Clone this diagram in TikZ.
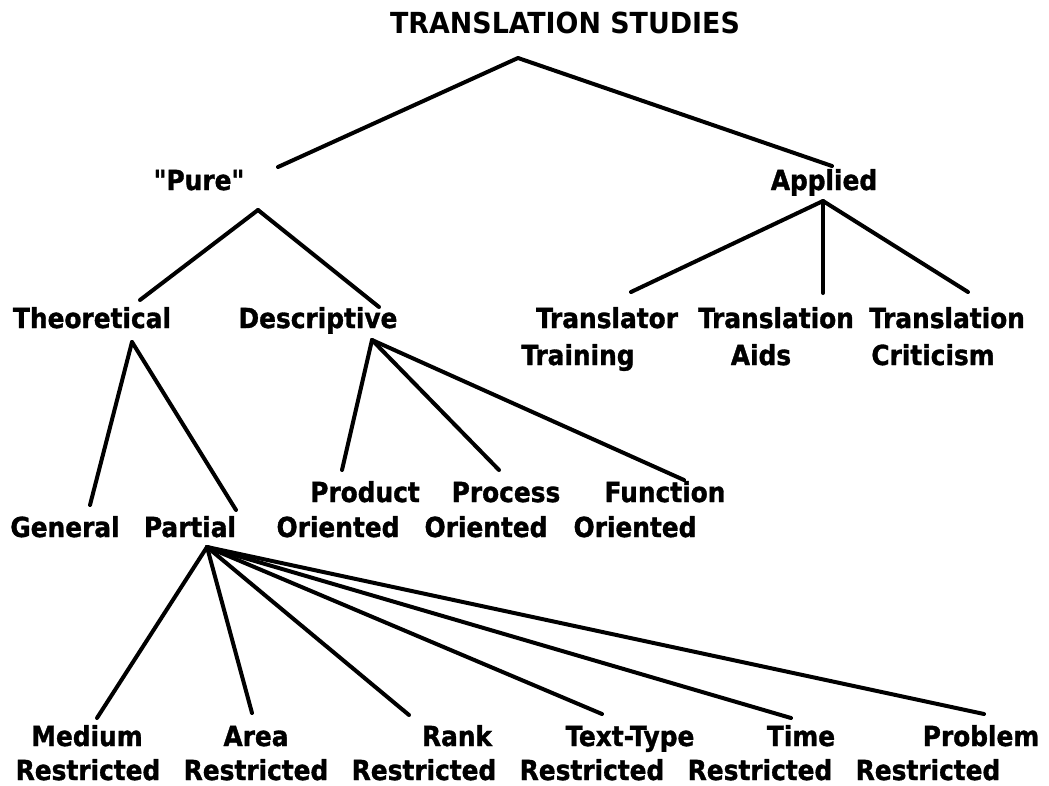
\documentclass[tikz,border=0pt]{standalone}
\usepackage{fontspec}
\newfontfamily\labfont{DejaVu Sans Condensed Bold}[FakeBold=1.2]
\newfontfamily\ttlfont{DejaVu Sans Condensed Bold}
\begin{document}
\begin{tikzpicture}[x=1pt,y=-1pt,
  lab/.style={inner sep=0pt,anchor=base,font=\labfont\fontsize{27.6}{30}\selectfont},
  ttl/.style={inner sep=0pt,anchor=base,font=\ttlfont\fontsize{29}{32}\selectfont},
  branch/.style={line width=4pt,line cap=round,line join=round,black}]
\useasboundingbox[fill=white] (0,0) rectangle (1049,785);
% texts
\node[ttl] (title) at (565,33) {\scalebox{1.03}[1]{TRANSLATION STUDIES}};
\node[lab] (pure) at (199,190) {"Pure"};
\node[lab] (applied) at (824,190) {Applied};
\node[lab] (theo) at (92,328) {Theoretical};
\node[lab] (desc) at (318,328) {Descriptive};
\node[lab] (trtr1) at (607,328) {Translator};
\node[lab] (trtr2) at (578,365) {Training};
\node[lab] (trai1) at (776,328) {Translation};
\node[lab] (trai2) at (761,365) {Aids};
\node[lab] (trcr1) at (947,328) {Translation};
\node[lab] (trcr2) at (933,365) {Criticism};
\node[lab] (gen) at (65,537) {General};
\node[lab] (part) at (190,537) {Partial};
\node[lab] (prod1) at (365,502) {Product};
\node[lab] (prod2) at (338,537) {Oriented};
\node[lab] (proc1) at (506,502) {Process};
\node[lab] (proc2) at (486,537) {Oriented};
\node[lab] (func1) at (665,502) {Function};
\node[lab] (func2) at (635,537) {Oriented};
\node[lab] (med1) at (87,746) {Medium};
\node[lab] (med2) at (88,780) {Restricted};
\node[lab] (area1) at (256,746) {Area};
\node[lab] (area2) at (256,780) {Restricted};
\node[lab] (rank1) at (457,746) {Rank};
\node[lab] (rank2) at (424,780) {Restricted};
\node[lab] (text1) at (630,746) {Text-Type};
\node[lab] (text2) at (592,780) {Restricted};
\node[lab] (time1) at (801,746) {Time};
\node[lab] (time2) at (760,780) {Restricted};
\node[lab] (prob1) at (981,746) {Problem};
\node[lab] (prob2) at (928,780) {Restricted};
% connector ends
\coordinate (titleB) at (518,58);
\coordinate (pureT) at (278,167);
\coordinate (appliedT) at (832,166);
\coordinate (pureB) at (258,210);
\coordinate (theoT) at (140,300);
\coordinate (descT) at (379,307);
\coordinate (appliedB) at (823,201);
\coordinate (trtrT) at (631,292);
\coordinate (traiT) at (823,293);
\coordinate (trcrT) at (968,292);
\coordinate (theoB) at (132,342);
\coordinate (genT) at (90,505);
\coordinate (partT) at (236,510);
\coordinate (descB) at (372,340);
\coordinate (prodT) at (342,470);
\coordinate (procT) at (499,470);
\coordinate (funcT) at (684,480);
\coordinate (partB) at (207,547);
\coordinate (medT) at (97,718);
\coordinate (areaT) at (252,713);
\coordinate (rankT) at (409,715);
\coordinate (textT) at (602,714);
\coordinate (timeT) at (791,718);
\coordinate (probT) at (984,714);
% connectors
\draw[branch] (pureT) -- (titleB) -- (appliedT);
\draw[branch] (pureB) -- (theoT);
\draw[branch] (pureB) -- (descT);
\draw[branch] (appliedB) -- (trtrT);
\draw[branch] (appliedB) -- (traiT);
\draw[branch] (appliedB) -- (trcrT);
\draw[branch] (theoB) -- (genT);
\draw[branch] (theoB) -- (partT);
\draw[branch] (descB) -- (prodT);
\draw[branch] (descB) -- (procT);
\draw[branch] (descB) -- (funcT);
\foreach \e in {medT,areaT,rankT,textT,timeT,probT}
  \draw[branch] (partB) -- (\e);
\end{tikzpicture}
\end{document}
